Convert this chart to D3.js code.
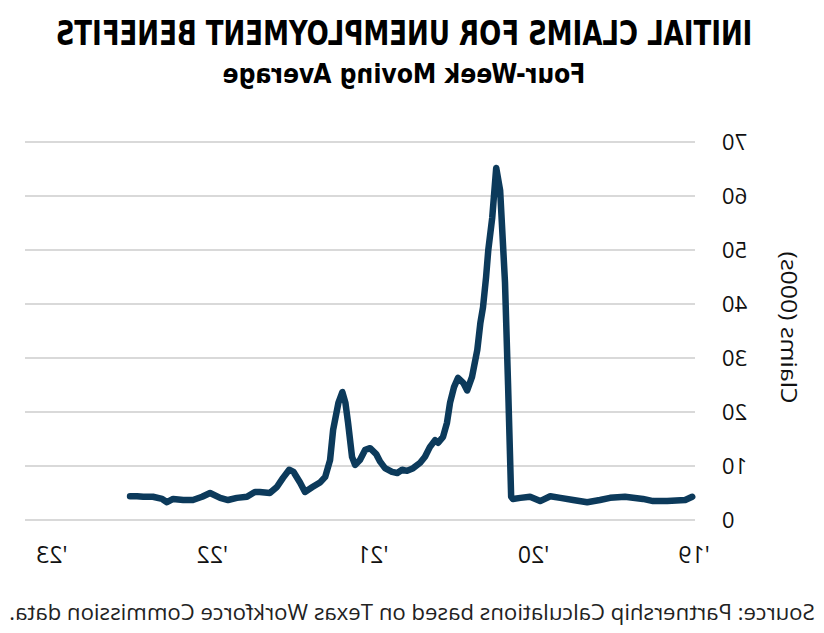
<!DOCTYPE html>
<html>
<head>
<meta charset="utf-8">
<script src="https://cdn.jsdelivr.net/npm/d3@7"></script>
<style>
  html, body { margin: 0; padding: 0; background: #fff; }
  svg { display: block; }
</style>
</head>
<body>
<svg id="chart" width="824" height="633"></svg>
<script>
// ---- Data ----
const titleText = "INITIAL CLAIMS FOR UNEMPLOYMENT BENEFITS";
const subtitleText = "Four-Week Moving Average";
const yAxisTitle = "Claims (000s)";
const sourceText = "Source: Partnership Calculations based on Texas Workforce Commission data.";

const weekDates = [
  "2019-01-05","2019-01-21","2019-03-03","2019-04-04","2019-04-27","2019-06-07","2019-07-11","2019-08-03",
  "2019-09-01","2019-10-03","2019-11-01","2019-11-24","2019-12-17","2020-01-09","2020-01-31","2020-02-17",
  "2020-02-21","2020-02-28","2020-03-06","2020-03-17","2020-03-26","2020-04-04","2020-04-13","2020-04-18",
  "2020-04-25","2020-05-01","2020-05-08","2020-05-20","2020-05-31","2020-06-09","2020-06-21","2020-06-30",
  "2020-07-09","2020-07-16","2020-07-25","2020-08-05","2020-08-12","2020-08-24","2020-09-04","2020-09-15",
  "2020-10-01","2020-10-15","2020-10-26","2020-11-06","2020-11-18","2020-12-04","2020-12-15","2020-12-24",
  "2021-01-07","2021-01-18","2021-01-30","2021-02-10","2021-02-17","2021-02-26","2021-03-04","2021-03-11",
  "2021-03-20","2021-04-01","2021-04-08","2021-04-19","2021-04-30","2021-05-18","2021-06-04","2021-06-15",
  "2021-06-30","2021-07-10","2021-07-24","2021-08-07","2021-08-23","2021-09-15","2021-09-26","2021-10-14",
  "2021-11-06","2021-11-26","2021-12-14","2022-01-06","2022-01-24","2022-02-14","2022-03-08","2022-03-31",
  "2022-04-14","2022-04-25","2022-05-16","2022-06-07","2022-06-21","2022-07-07"
];
const claimsValues = [
  4.3,3.7,3.5,3.5,3.9,4.3,4.1,3.7,
  3.3,3.7,4.1,4.4,3.5,4.3,4.1,3.9,
  4.3,25,44,61,65.2,56,50,45,
  39.4,36.5,31.5,26.5,24,25.4,26.3,24.6,
  21.7,18,15.4,14.3,14.8,13.5,11.7,10.6,
  9.6,9.1,9.3,8.7,8.9,9.6,10.8,12.2,
  13.3,13.0,11.1,10.2,11.7,18,21.7,23.7,
  21.7,16.7,11.1,8.0,7.0,6.1,5.2,6.9,
  8.9,9.3,7.8,6.1,5.0,5.2,5.2,4.3,
  4.1,3.7,4.1,5.0,4.3,3.7,3.7,3.9,
  3.3,3.9,4.3,4.3,4.4,4.4
];
const yTicks = [0,10,20,30,40,50,60,70];
const xTickYears = ["2019","2020","2021","2022","2023"];
const xTickLabels = ["'19","'20","'21","'22","'23"];

// ---- Drawing ----
const svg = d3.select("#chart");
// The reference is a horizontally mirrored image; mirror the whole drawing.
const root = svg.append("g").attr("transform", "translate(824,0) scale(-1,1)");

const parse = d3.timeParse("%Y-%m-%d");
const data = weekDates.map((d, i) => ({ date: parse(d), value: claimsValues[i] }));

const x = d3.scaleTime()
  .domain([parse("2019-01-01"), parse("2023-03-03")])
  .range([130, 799]);
const y = d3.scaleLinear().domain([0, 70]).range([520, 142]);

// gridlines
root.append("g").selectAll("line").data(yTicks).join("line")
  .attr("x1", 129).attr("x2", 799)
  .attr("y1", d => y(d)).attr("y2", d => y(d))
  .attr("stroke", "#d9d9d9").attr("stroke-width", 2);

// y tick labels
root.append("g").selectAll("text").data(yTicks).join("text")
  .attr("x", 102).attr("y", d => y(d)).attr("dy", "0.36em")
  .attr("text-anchor", "end")
  .attr("font-family", "'Open Sans', 'Noto Sans', sans-serif")
  .attr("font-size", 22).attr("fill", "#111")
  .text(d => d);

// helper: center text at (cx, by) and scale horizontally to a target width
function fitText(sel, cx, by, target) {
  sel.attr("x", 0).attr("y", 0).attr("text-anchor", "middle");
  const w = sel.node().getComputedTextLength();
  const s = target / w;
  sel.attr("transform", `translate(${cx},${by}) scale(${s},1)`);
}

// y axis title
root.append("text")
  .attr("transform", `translate(43,${(250+405)/2}) rotate(-90)`)
  .attr("text-anchor", "middle")
  .attr("font-family", "'Open Sans', 'Noto Sans', sans-serif")
  .attr("font-size", 21).attr("fill", "#111")
  .attr("textLength", 152).attr("lengthAdjust", "spacingAndGlyphs")
  .text(yAxisTitle);

// x tick labels
root.append("g").selectAll("text").data(xTickYears).join("text")
  .attr("x", d => x(parse(d + "-01-01")))
  .attr("y", 563)
  .attr("text-anchor", "middle")
  .attr("font-family", "'Open Sans', 'Noto Sans', sans-serif")
  .attr("font-size", 23).attr("fill", "#111")
  .text((d, i) => xTickLabels[i]);

// line
const line = d3.line().x(d => x(d.date)).y(d => y(d.value)).curve(d3.curveLinear);
root.append("path").datum(data)
  .attr("d", line)
  .attr("fill", "none")
  .attr("stroke", "#0c3a5b")
  .attr("stroke-width", 6.5)
  .attr("stroke-linejoin", "round")
  .attr("stroke-linecap", "round");

// title
const title = root.append("text")
  .attr("font-family", "'Liberation Sans Narrow', 'DejaVu Sans Condensed', 'Roboto', sans-serif")
  .attr("font-weight", "bold").attr("font-size", 33).attr("fill", "#000")
  .text(titleText);
fitText(title, 420, 45, 697);

// subtitle
const subtitle = root.append("text")
  .attr("font-family", "'Liberation Sans Narrow', 'DejaVu Sans Condensed', 'Roboto', sans-serif")
  .attr("font-weight", "bold").attr("font-size", 27).attr("fill", "#000")
  .text(subtitleText);
fitText(subtitle, 420, 83, 363);

// source
const source = root.append("text")
  .attr("font-family", "'Open Sans', 'Noto Sans', sans-serif")
  .attr("font-size", 21.5).attr("fill", "#222")
  .text(sourceText);
fitText(source, 412, 620, 806);
</script>
</body>
</html>
